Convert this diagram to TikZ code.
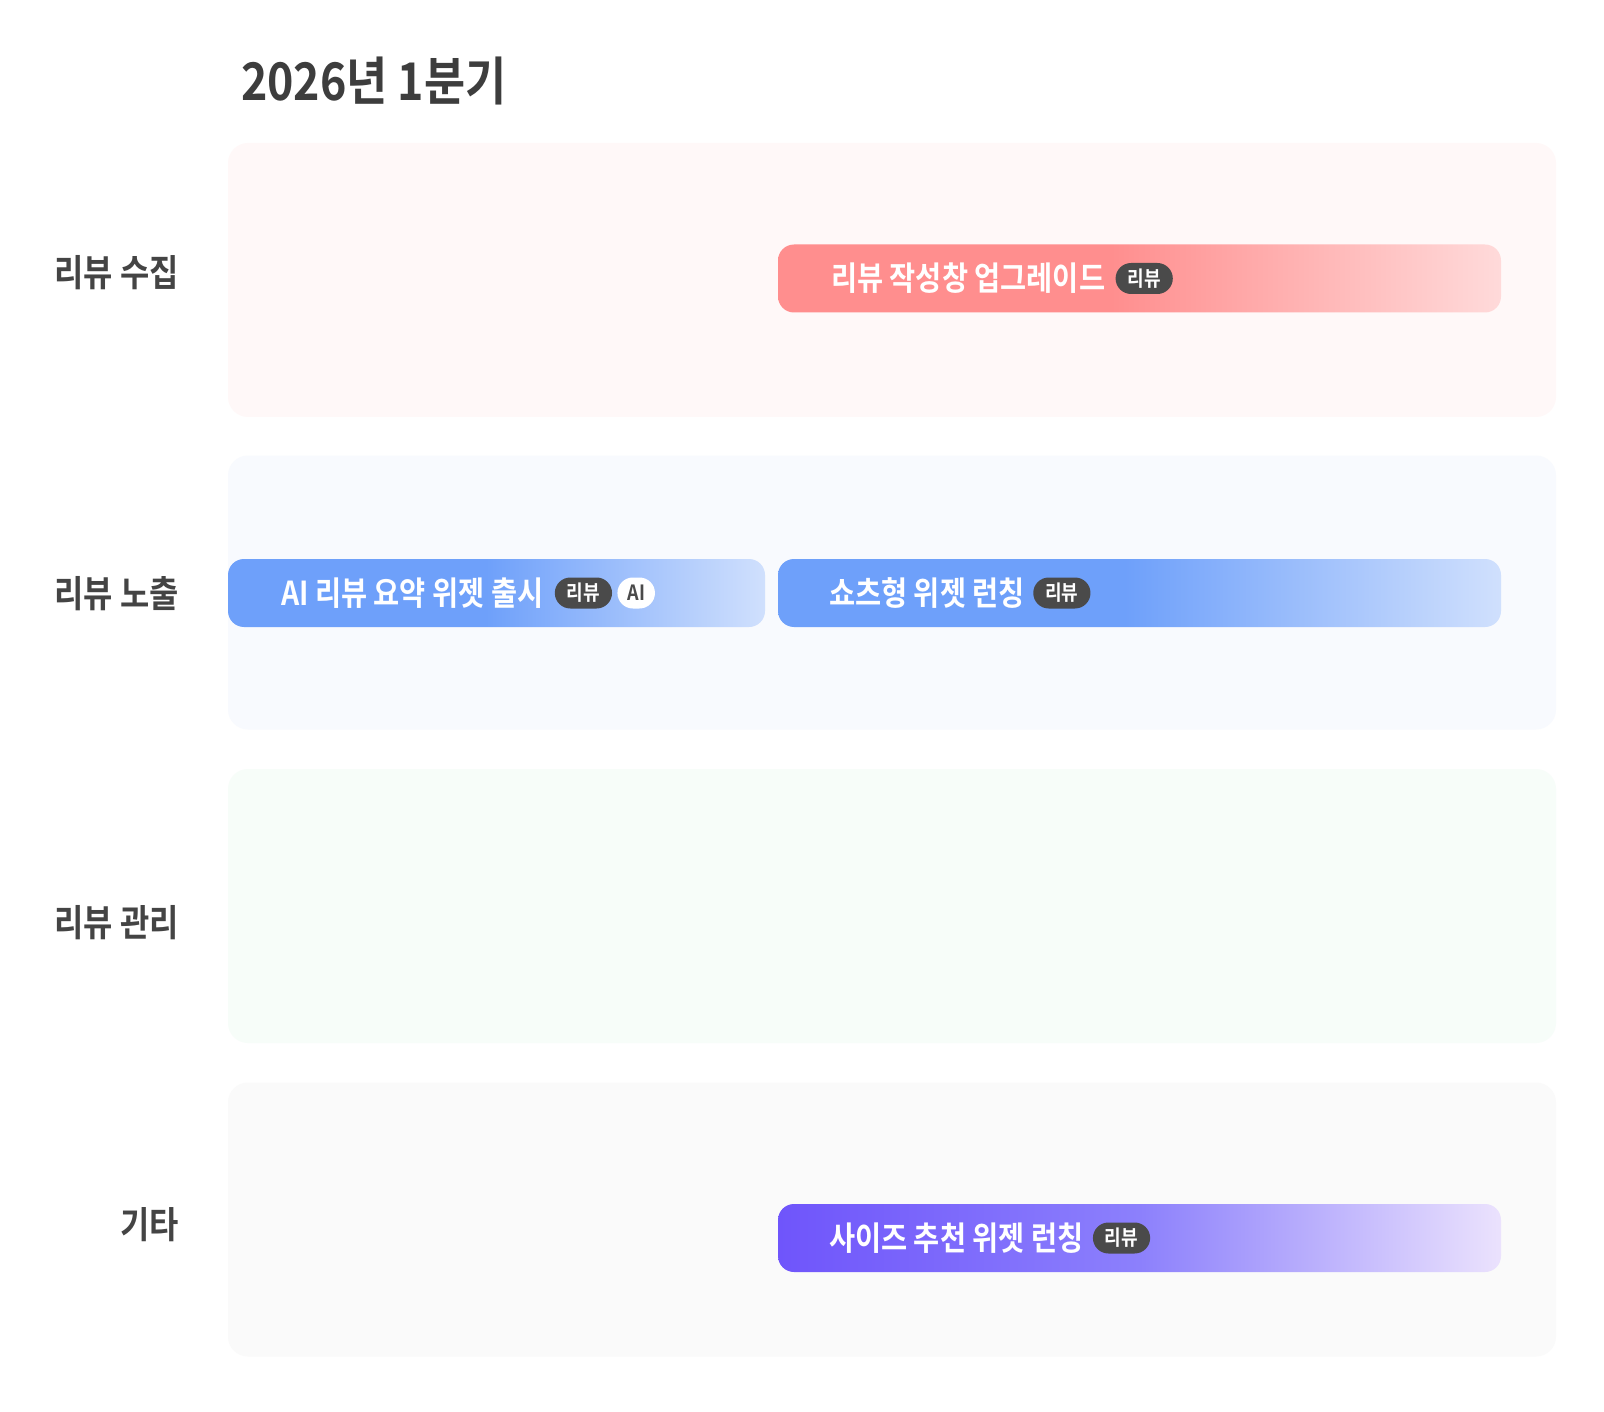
\documentclass[tikz,border=0pt]{standalone}
\usepackage{fontspec}
\newfontfamily\krb{Noto Sans CJK KR Bold}[FakeStretch=0.86]
\usetikzlibrary{positioning}

\definecolor{inkGray}{HTML}{444444}
\definecolor{tagGray}{HTML}{4A4A4A}
\definecolor{laneRed}{HTML}{FFF8F8}
\definecolor{laneBlue}{HTML}{F8FAFE}
\definecolor{laneGreen}{HTML}{F7FDF9}
\definecolor{laneGray}{HTML}{FAFAFA}
\definecolor{redA}{HTML}{FF8E8E}
\definecolor{redB}{HTML}{FFDADA}
\definecolor{blueA}{HTML}{6EA0FA}
\definecolor{blueB}{HTML}{D0E0FD}
\definecolor{purpleA}{HTML}{6F55FB}
\definecolor{purpleM}{HTML}{8C80FC}
\definecolor{purpleB}{HTML}{EBE2FD}

\pgfdeclarehorizontalshading{redbar}{100bp}{color(0bp)=(redA); color(25bp)=(redA); color(48bp)=(redA); color(75bp)=(redB); color(100bp)=(redB)}
\pgfdeclarehorizontalshading{bluebar}{100bp}{color(0bp)=(blueA); color(25bp)=(blueA); color(49bp)=(blueA); color(75bp)=(blueB); color(100bp)=(blueB)}
\pgfdeclarehorizontalshading{purplebar}{100bp}{color(0bp)=(purpleA); color(25bp)=(purpleA); color(50bp)=(purpleM); color(75bp)=(purpleB); color(100bp)=(purpleB)}

\begin{document}
\begin{tikzpicture}[x=1pt,y=-1pt,
    lane/.style={rounded corners=20pt, minimum width=1328pt, minimum height=274pt, inner sep=0pt},
    rowlabel/.style={anchor=east, inner sep=0pt, text=inkGray, font=\krb\fontsize{37}{44}\selectfont},
    bar/.style={rounded corners=16pt, minimum height=68pt, inner sep=0pt},
    bartext/.style={anchor=west, inner sep=0pt, text=white, font=\krb\fontsize{33}{40}\selectfont},
    tagdark/.style={fill=tagGray, text=white, rounded corners=15.5pt, minimum height=31pt, inner xsep=12pt, inner ysep=0pt, font=\krb\fontsize{21}{24}\selectfont},
    taglight/.style={fill=white, text=tagGray, rounded corners=15.5pt, minimum height=31pt, inner xsep=10pt, inner ysep=0pt, font=\krb\fontsize{21}{24}\selectfont}]

    \useasboundingbox[fill=white] (0,0) rectangle (1604,1412);

    \node[anchor=base west, inner sep=0pt, text=inkGray!90!black, font=\krb\fontsize{52}{60}\selectfont] (title) at (241,101) {2026년 1분기};

    \node[lane, fill=laneRed] (laneCollect) at (892,280) {};
    \node[lane, fill=laneBlue] (laneShow) at (892,592.5) {};
    \node[lane, fill=laneGreen] (laneManage) at (892,906) {};
    \node[lane, fill=laneGray] (laneEtc) at (892,1219.5) {};

    \node[rowlabel] (lblCollect) at (179,272.5) {리뷰 수집};
    \node[rowlabel] (lblShow) at (179,594) {리뷰 노출};
    \node[rowlabel] (lblManage) at (179,922.5) {리뷰 관리};
    \node[rowlabel] (lblEtc) at (179,1225) {기타};

    \node[bar, shading=redbar, minimum width=723pt] (barWrite) at (1139.5,278.5) {};
    \node[bartext] (txtWrite) at (831,278.5) {리뷰 작성창 업그레이드};
    \node[tagdark, right=10pt of txtWrite] (tagWrite) {리뷰};

    \node[bar, shading=bluebar, minimum width=537pt] (barSummary) at (496.5,593) {};
    \node[bartext] (txtSummary) at (281,593) {AI 리뷰 요약 위젯 출시};
    \node[tagdark, right=11pt of txtSummary] (tagSummary) {리뷰};
    \node[taglight, right=5pt of tagSummary] (tagSummaryAI) {AI};

    \node[bar, shading=bluebar, minimum width=723pt] (barShorts) at (1139.5,593) {};
    \node[bartext] (txtShorts) at (829,593) {쇼츠형 위젯 런칭};
    \node[tagdark, right=8pt of txtShorts] (tagShorts) {리뷰};

    \node[bar, shading=purplebar, minimum width=723pt] (barSize) at (1139.5,1238) {};
    \node[bartext] (txtSize) at (829,1238) {사이즈 추천 위젯 런칭};
    \node[tagdark, right=9pt of txtSize] (tagSize) {리뷰};
\end{tikzpicture}
\end{document}
